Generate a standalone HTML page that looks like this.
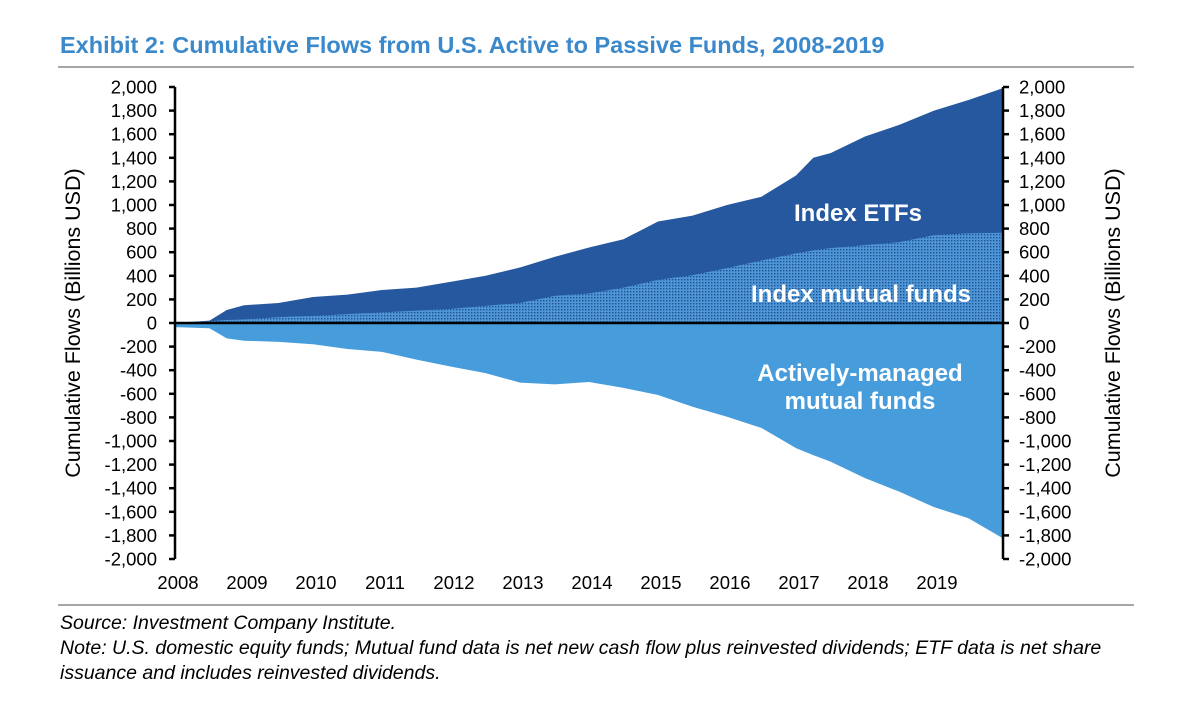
<!DOCTYPE html>
<html><head><meta charset="utf-8">
<style>
body{margin:0;background:#fff;font-family:"Liberation Sans",Arial,sans-serif;}
svg text{font-family:"Liberation Sans",Arial,sans-serif;}
</style></head>
<body>
<svg id="chart" width="1196" height="707" viewBox="0 0 1196 707">
<defs>
<pattern id="dots" width="3" height="3" patternUnits="userSpaceOnUse">
<rect width="3" height="3" fill="#4f96d6"/>
<rect x="0" y="0" width="1.4" height="1.4" fill="#1e4f8f"/>
</pattern>
</defs>
<text x="60" y="53" font-size="23.5" font-weight="bold" fill="#3b89cb">Exhibit 2: Cumulative Flows from U.S. Active to Passive Funds, 2008-2019</text>
<line x1="58" y1="67" x2="1134" y2="67" stroke="#888" stroke-width="1.5"/>
<g id="plot"></g>
<text transform="translate(80,323) rotate(-90)" text-anchor="middle" font-size="21.5" fill="#000">Cumulative Flows (Billions USD)</text>
<text transform="translate(1120,323) rotate(-90)" text-anchor="middle" font-size="21.5" fill="#000">Cumulative Flows (Billions USD)</text>
<text x="858" y="221" text-anchor="middle" font-size="24" font-weight="bold" fill="#fff">Index ETFs</text>
<text x="861" y="302" text-anchor="middle" font-size="24" font-weight="bold" fill="#fff">Index mutual funds</text>
<text x="860" y="381" text-anchor="middle" font-size="24" font-weight="bold" fill="#fff">Actively-managed</text>
<text x="860" y="409" text-anchor="middle" font-size="24" font-weight="bold" fill="#fff">mutual funds</text>
<line x1="58" y1="605" x2="1134" y2="605" stroke="#888" stroke-width="1.5"/>
<text x="60" y="629" font-size="19.5" font-style="italic" fill="#000">Source: Investment Company Institute.</text>
<text x="60" y="654" font-size="19.5" font-style="italic" fill="#000">Note: U.S. domestic equity funds; Mutual fund data is net new cash flow plus reinvested dividends; ETF data is net share</text>
<text x="60" y="679" font-size="19.5" font-style="italic" fill="#000">issuance and includes reinvested dividends.</text>
</svg>
<script>
const times = [2008,2008.5,2008.75,2009,2009.5,2010,2010.5,2011,2011.5,2012,2012.5,2013,2013.5,2014,2014.5,2015,2015.5,2016,2016.5,2017,2017.25,2017.5,2018,2018.5,2019,2019.5,2020];
const passiveTotal = [0,20,110,150,170,220,240,280,300,350,400,470,560,640,710,860,910,1000,1070,1250,1400,1440,1580,1680,1800,1890,1990];
const indexMutual = [0,15,25,30,50,60,75,90,105,120,145,170,230,250,300,365,405,465,530,590,615,635,660,685,745,760,765];
const activeFunds = [-35,-45,-130,-150,-160,-180,-220,-245,-310,-370,-425,-505,-520,-500,-550,-610,-710,-795,-890,-1060,-1120,-1175,-1315,-1430,-1560,-1655,-1825];
const yTicks = [2000,1800,1600,1400,1200,1000,800,600,400,200,0,-200,-400,-600,-800,-1000,-1200,-1400,-1600,-1800,-2000];
const xTicks = [2008,2009,2010,2011,2012,2013,2014,2015,2016,2017,2018,2019];

const X0=175,X1=1003,Y0=323,YS=236/2000;
const xs=t=>X0+(t-2008)/12*(X1-X0);
const ys=v=>Y0-v*YS;
const NS='http://www.w3.org/2000/svg';
const plot=document.getElementById('plot');
function mk(tag,attrs){const e=document.createElementNS(NS,tag);for(const k in attrs)e.setAttribute(k,attrs[k]);plot.appendChild(e);return e;}
function area(vals){let d='M'+xs(times[0])+','+ys(0);times.forEach((t,i)=>{d+=' L'+xs(t)+','+ys(vals[i]);});d+=' L'+xs(times[times.length-1])+','+ys(0)+' Z';return d;}
const a1=mk('path',{d:area(passiveTotal),fill:'#25589f'});


const a2=mk('path',{d:area(indexMutual),fill:'url(#dots)'});


const a3=mk('path',{d:area(activeFunds),fill:'#479ddb'});


const z=mk('line',{x1:X0,y1:Y0,x2:X1,y2:Y0,stroke:'#000','stroke-width':2.5});


[X0,X1].forEach((x,j)=>{
  const ax=mk('line',{x1:x,y1:ys(2000),x2:x,y2:ys(-2000),stroke:'#000','stroke-width':2.5});
  
  
});
yTicks.forEach(v=>{
  const y=ys(v);
  mk('line',{x1:X0-6,y1:y,x2:X0,y2:y,stroke:'#000','stroke-width':2.5});
  mk('line',{x1:X1,y1:y,x2:X1+6,y2:y,stroke:'#000','stroke-width':2.5});
  const lbl=v.toLocaleString('en-US');
  const t1=mk('text',{x:157,y:y+6.5,'text-anchor':'end','font-size':18.5,fill:'#000'});t1.textContent=lbl;
  
  
  const t2=mk('text',{x:1019,y:y+6.5,'font-size':18.5,fill:'#000'});t2.textContent=lbl;
  
  
});
xTicks.forEach(t=>{
  const tx=mk('text',{x:xs(t)+3,y:589,'text-anchor':'middle','font-size':18.5,fill:'#000'});tx.textContent=t;
  
  
});
</script>
</body></html>
